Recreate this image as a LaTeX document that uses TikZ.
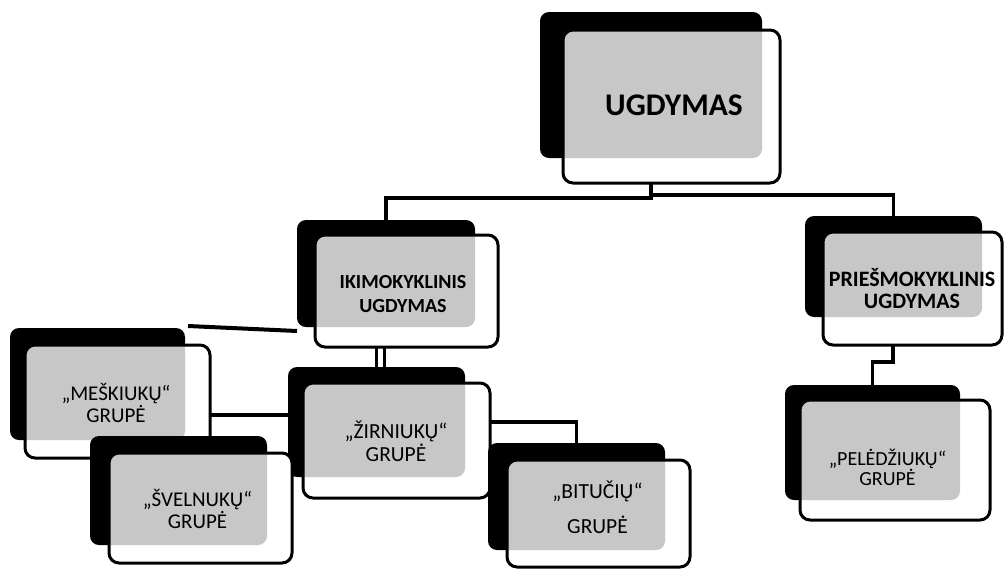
\documentclass[tikz,border=0pt]{standalone}
\usepackage{fontspec}
\setmainfont{Carlito}
\usetikzlibrary{fit,calc}
\tikzset{
  backbox/.style={fill=black, rounded corners=9pt, inner sep=0pt, outer sep=0pt},
  frontbox/.style={fill=white, rounded corners=10pt, inner sep=0pt, outer sep=0pt},
  frontline/.style={draw=black, line width=3pt, rounded corners=10pt},
  shadefill/.style={fill=black!22},
  conn/.style={draw=black, line width=3.6pt},
  lbl/.style={align=center, font=\fontsize{21}{20}\selectfont},
  boldlbl/.style={align=center, font=\fontsize{20}{24}\selectfont\bfseries},
  biglbl/.style={align=center, font=\fontsize{31.5}{34}\selectfont\bfseries},
}
% #1 name, #2 black nw, #3 black se, #4 white nw, #5 white se
\newcommand\ebox[5]{%
  \node[backbox, fit={(#2) (#3)}] (#1b) {};
  \node[frontbox, fit={(#4) (#5)}] (#1w) {};
  \begin{scope}
    \clip[rounded corners=10pt] (#1w.south west) rectangle (#1w.north east);
    \fill[shadefill, rounded corners=9pt] (#1b.south west) rectangle (#1b.north east);
  \end{scope}
  \draw[frontline] (#1w.south west) rectangle (#1w.north east);
}
\begin{document}
\begin{tikzpicture}[x=1pt, y=-1pt]
\useasboundingbox (0,0) rectangle (1005,571);
\fill[white] (0,0) rectangle (1005,571);

% top level
\ebox{ug}{540,12}{762,158}{563,30}{780,183}
\node[biglbl] (ugt) at (674,105) {UGDYMAS};

% second level
\ebox{iki}{297,220}{475,327}{315,235}{498,347}
\node[boldlbl] (ikit) at (403,294) {IKIMOKYKLINIS\\UGDYMAS};

\ebox{pri}{805,216}{982,317}{823,232}{1002,345}
\node[boldlbl, font=\fontsize{22}{22}\selectfont\bfseries] (prit) at (912,289) {PRIEŠMOKYKLINIS\\UGDYMAS};

% groups
\ebox{mesk}{10,328}{185,440}{25,345}{210,458}
\node[lbl] (meskt) at (116,403) {„MEŠKIUKŲ“\\GRUPĖ};

\ebox{zir}{288,367}{465,477}{303,383}{490,498}
\node[lbl, font=\fontsize{21.5}{23}\selectfont] (zirt) at (396,441.5) {„ŽIRNIUKŲ“\\GRUPĖ};

\ebox{svel}{90,436}{267,545}{109,453}{292,563}
\node[lbl] (svelt) at (197.5,509) {„ŠVELNUKŲ“\\GRUPĖ};

\ebox{bit}{488,443}{665,550}{507,460}{690,567}
\node[lbl, font=\fontsize{21.5}{35}\selectfont] (bitt) at (597.5,507.5) {„BITUČIŲ“\\GRUPĖ};

\ebox{pele}{785,385}{960,500}{800,400}{990,520}
\node[lbl, font=\fontsize{20}{19.5}\selectfont] (pelet) at (887.5,467.5) {„PELĖDŽIUKŲ“\\GRUPĖ};

% connectors
\draw[conn] ([xshift=-20.5pt]ugw.south) -- ++(0,15) -| (ikib.north);
\draw[conn] ([xshift=-20.5pt,yshift=-12pt]ugw.south) -| (prib.north);

\draw[line width=3pt] (zirb.north |- ikiw.south) -- (zirb.north);
\draw[line width=3pt] ([xshift=8pt]zirb.north |- ikiw.south) -- ([xshift=8pt]zirb.north);

\draw[line width=4pt] ([shift={(3pt,2pt)}]meskb.north east) -- ([yshift=-4pt]ikib.south west);

\coordinate (m4) at ([yshift=-13.5pt]meskw.east);
\draw[conn] (m4) -- (m4 -| zirb.west);

\coordinate (z5) at ([yshift=18.5pt]zirw.east);
\draw[conn] (z5) -| (bitb.north);

\draw[conn] ([xshift=-19.5pt]priw.south) -- ++(0,17) -| (peleb.north);
\end{tikzpicture}
\end{document}
